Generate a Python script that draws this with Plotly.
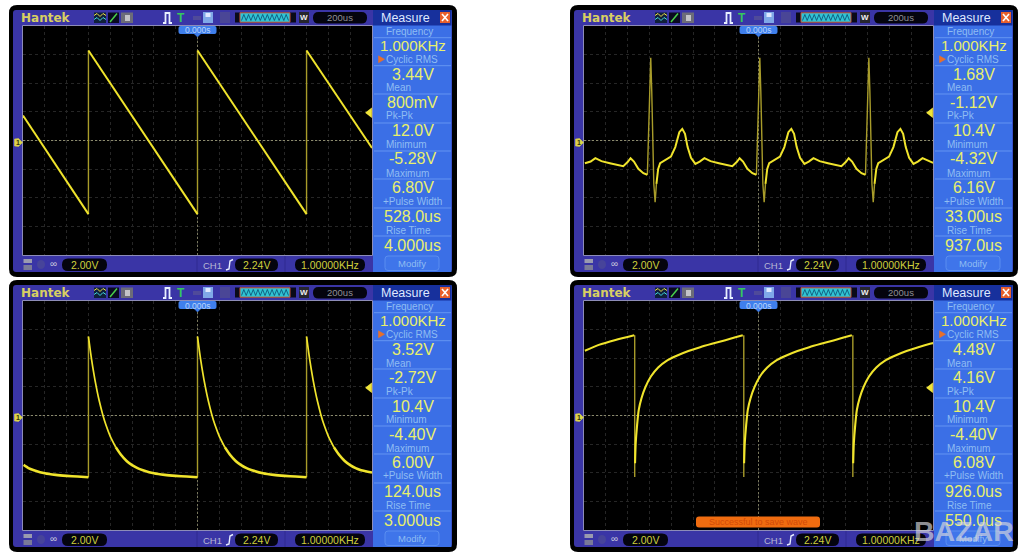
import plotly.graph_objects as go

W, H = 1024, 558

# ---------- waveform data: time in us, level in volts ----------
saw_t = [-1600, -1000, None, -1000, 0, None, 0, 1000, None, 1000, 1600]
saw_v = [1.85, -5.45, None, 6.67, -5.45, None, 6.67, -5.45, None, 6.67, -0.55]
saw_edge_t = [-1000, -1000, None, 0, 0, None, 1000, 1000]
saw_edge_v = [-5.45, 6.67, None, -5.45, 6.67, None, -5.45, 6.67]

ecg_t = [-1592, -1539, -1496, -1440, -1363, -1286, -1240, -1200, -1173, -1142, -1102, -1056, -1019, None,
         -936, -920, -902, -856, -803, -763, -726, -699, -674, -650, -619, -579, -539, -496, -440, -363,
         -286, -240, -200, -173, -142, -102, -56, -19, None,
         64, 80, 98, 144, 197, 237, 274, 301, 326, 350, 381, 421, 461, 504, 560, 637, 714, 760, 800, 827,
         858, 898, 944, 981, None,
         1064, 1080, 1098, 1144, 1197, 1237, 1274, 1301, 1326, 1350, 1381, 1421, 1461, 1504, 1601]
ecg_v = [-1.68, -1.56, -1.31, -1.53, -1.68, -1.85, -1.90, -1.60, -1.31, -1.56, -2.10, -2.42, -2.54, None,
         -3.21, -2.10, -1.68, -1.48, -1.19, -0.49, 0.62, 0.86, 0.49, -0.49, -1.28, -1.73, -1.56, -1.31, -1.53, -1.68,
         -1.85, -1.90, -1.60, -1.31, -1.56, -2.10, -2.42, -2.54, None,
         -3.21, -2.10, -1.68, -1.48, -1.19, -0.49, 0.62, 0.86, 0.49, -0.49, -1.28, -1.73, -1.56, -1.31, -1.53, -1.68,
         -1.85, -1.90, -1.60, -1.31, -1.56, -2.10, -2.42, -2.54, None,
         -3.21, -2.10, -1.68, -1.48, -1.19, -0.49, 0.62, 0.86, 0.49, -0.49, -1.28, -1.73, -1.56, -1.31, -1.65]
ecg_spike_t = [-1019, -1006, -997, -988, -979, -970, -960, -948, -936, None,
               -19, -6, 3, 12, 21, 30, 40, 52, 64, None,
               981, 994, 1003, 1012, 1021, 1030, 1040, 1052, 1064]
ecg_spike_v = [-2.54, 1.73, 3.95, 6.12, 3.70, 0.0, -3.21, -4.57, -3.21, None,
               -2.54, 1.73, 3.95, 6.12, 3.70, 0.0, -3.21, -4.57, -3.21, None,
               -2.54, 1.73, 3.95, 6.12, 3.70, 0.0, -3.21, -4.57, -3.21]

dec_t = [-1000, -980, -960, -940, -920, -900, -870, -840, -800, -750, None,
         0, 20, 40, 60, 80, 100, 130, 160, 200, 250, None,
         1000, 1020, 1040, 1060, 1080, 1100, 1130, 1160, 1200, 1250]
dec_v = [5.85, 4.64, 3.57, 2.62, 1.79, 1.05, 0.10, -0.69, -1.54, -2.34, None,
         5.85, 4.64, 3.57, 2.62, 1.79, 1.05, 0.10, -0.69, -1.54, -2.34, None,
         5.85, 4.64, 3.57, 2.62, 1.79, 1.05, 0.10, -0.69, -1.54, -2.34]
dec_tail_t = [-1595, -1550, -1500, -1400, -1300, -1200, -1100, -1000, None,
              -750, -700, -650, -600, -550, -500, -400, -300, -200, -100, 0, None,
              250, 300, 350, 400, 450, 500, 600, 700, 800, 900, 1000, None,
              1250, 1300, 1350, 1400, 1450, 1500, 1600]
dec_tail_v = [-3.66, -3.90, -4.05, -4.28, -4.40, -4.47, -4.52, -4.57, None,
              -2.34, -2.93, -3.37, -3.68, -3.90, -4.05, -4.28, -4.40, -4.47, -4.52, -4.57, None,
              -2.34, -2.93, -3.37, -3.68, -3.90, -4.05, -4.28, -4.40, -4.47, -4.52, -4.57, None,
              -2.34, -2.93, -3.37, -3.68, -3.90, -4.05, -4.22]
dec_edge_t = [-1000, -1000, None, 0, 0, None, 1000, 1000]
dec_edge_v = [-4.57, 5.85, None, -4.57, 5.85, None, -4.57, 5.85]

rec_t = [-1592, -1464, -1311, -1139, None,
         -1132, -1126, -1113, -1098, -1073, -1037, -987, -920, -843, -750, -643, -535, -427, -304, -212, -144, None,
         -132, -126, -113, -98, -73, -37, 13, 80, 157, 250, 357, 465, 573, 696, 788, 856, None,
         868, 874, 887, 902, 927, 963, 1013, 1080, 1157, 1250, 1357, 1465, 1573, 1601]
rec_v = [4.79, 5.23, 5.60, 5.95, None,
         -3.53, -2.05, -0.69, 0.42, 1.28, 2.10, 2.89, 3.56, 4.05, 4.42, 4.77, 5.06, 5.31, 5.58, 5.80, 5.95, None,
         -3.53, -2.05, -0.69, 0.42, 1.28, 2.10, 2.89, 3.56, 4.05, 4.42, 4.77, 5.06, 5.31, 5.58, 5.80, 5.95, None,
         -3.53, -2.05, -0.69, 0.42, 1.28, 2.10, 2.89, 3.56, 4.05, 4.42, 4.77, 5.06, 5.31, 5.36]
rec_edge_t = [-1135, -1135, None, -135, -135, None, 865, 865]
rec_edge_v = [5.95, -4.55, None, 5.95, -4.55, None, 5.95, -4.55]

trigger_level = 2.05
x_range = [-1600, 1600]
y_range = [-8.48, 8.48]

# ---------- scope read-outs ----------
measure_labels = ["Frequency", "Cyclic RMS", "Mean", "Pk-Pk", "Minimum", "Maximum", "+Pulse Width", "Rise Time"]
saw_readout = ["1.000KHz", "3.44V", "800mV", "12.0V", "-5.28V", "6.80V", "528.0us", "4.000us"]
ecg_readout = ["1.000KHz", "1.68V", "-1.12V", "10.4V", "-4.32V", "6.16V", "33.00us", "937.0us"]
dec_readout = ["1.000KHz", "3.52V", "-2.72V", "10.4V", "-4.40V", "6.00V", "124.0us", "3.000us"]
rec_readout = ["1.000KHz", "4.48V", "4.16V", "10.4V", "-4.40V", "6.08V", "926.0us", "550.0us"]

brand = "Hantek"
menu_title = "Measure"
timebase = "200us"
trigger_pos = "0.000s"
volts_div = "2.00V"
channel = "CH1"
trigger_readout = "2.24V"
freq_readout = "1.00000KHz"
modify = "Modify"
toast = "Successful to save wave"
watermark = "BAZAR"

FONT = "Liberation Sans"
YEL = "#f0e42c"
DIM = "#a89c2a"
VAL = "#e9f06c"
LAB = "#8fbdf2"
BODY = "#3a35a6"
BLUE = "#3b6fe6"
NAVY = "#17309c"


def X(p):
    return p / W


def Y(p):
    return 1 - p / H


shapes, notes = [], []


def rrect(x0, y0, x1, y1, r, fill, line=None, lw=1, layer="below"):
    a, b, c, d = X(x0), Y(y0), X(x1), Y(y1)
    rx, ry = r / W, r / H
    path = (f"M {a+rx},{b} L {c-rx},{b} Q {c},{b} {c},{b-ry} L {c},{d+ry} Q {c},{d} {c-rx},{d} "
            f"L {a+rx},{d} Q {a},{d} {a},{d+ry} L {a},{b-ry} Q {a},{b} {a+rx},{b} Z")
    shapes.append(dict(type="path", xref="paper", yref="paper", path=path, fillcolor=fill,
                       line=dict(color=line or fill, width=lw if line else 0), layer=layer))


def rect(x0, y0, x1, y1, fill, line=None, lw=1, layer="below"):
    shapes.append(dict(type="rect", xref="paper", yref="paper", x0=X(x0), x1=X(x1), y0=Y(y0), y1=Y(y1),
                       fillcolor=fill, line=dict(color=line or fill, width=lw if line else 0), layer=layer))


def poly(pts, color, lw=1, fill=None, layer="below"):
    path = "M " + " L ".join(f"{X(a)},{Y(b)}" for a, b in pts)
    if fill:
        path += " Z"
    shapes.append(dict(type="path", xref="paper", yref="paper", path=path,
                       fillcolor=fill or "rgba(0,0,0,0)", line=dict(color=color, width=lw), layer=layer))


def text(x, y, s, size, color, anchor="center", bold=False, family=FONT):
    notes.append(dict(xref="paper", yref="paper", x=X(x), y=Y(y), text=f"<b>{s}</b>" if bold else s,
                      showarrow=False, xanchor=anchor, yanchor="middle",
                      font=dict(size=size, color=color, family=family), borderpad=0, borderwidth=0))


def frame(ox, oy, readout):
    rrect(9 + ox, 5 + oy, 457 + ox, 277 + oy, 8, "#000000")
    rrect(13 + ox, 10 + oy, 452 + ox, 272 + oy, 3, BODY)
    rect(22.5 + ox, 25.5 + oy, 372.5 + ox, 255.5 + oy, "#000000", "#8d8cb8", 1)
    rect(373 + ox, 10 + oy, 451.5 + ox, 272 + oy, BLUE)
    rect(373 + ox, 10 + oy, 451.5 + ox, 25.5 + oy, NAVY)
    rect(440 + ox, 12 + oy, 450 + ox, 23 + oy, "#e8602c")
    poly([(442 + ox, 14 + oy), (448 + ox, 21 + oy)], "#ffffff", 1.6)
    poly([(448 + ox, 14 + oy), (442 + ox, 21 + oy)], "#ffffff", 1.6)
    text(405 + ox, 17.7 + oy, menu_title, 12.5, "#dfe8ff")
    for yy in (37.7, 65.7, 94, 123, 151, 179, 208, 236):
        poly([(374 + ox, yy + oy), (451 + ox, yy + oy)], "#6f9ff5", 0.8)

    # header glyphs
    text(46 + ox, 17.7 + oy, brand, 12, "#d8cf62", bold=True, family="DejaVu Sans")
    rect(94 + ox, 12.5 + oy, 106 + ox, 23 + oy, "#10203a")
    poly([(94 + ox, 15.5 + oy), (97 + ox, 13.5 + oy), (100 + ox, 16.5 + oy), (103 + ox, 13.5 + oy), (106 + ox, 15.5 + oy)], "#efe04a", 1)
    poly([(94 + ox, 19.5 + oy), (97 + ox, 17.5 + oy), (100 + ox, 20.5 + oy), (103 + ox, 17.5 + oy), (106 + ox, 19.5 + oy)], "#3fd6e0", 1)
    rect(108 + ox, 12.5 + oy, 119 + ox, 23 + oy, "#0a0a20")
    poly([(110 + ox, 22 + oy), (117 + ox, 13.5 + oy)], "#49d04a", 1.5)
    rect(121 + ox, 12.5 + oy, 133 + ox, 23 + oy, "#6c6c78")
    rect(125 + ox, 15 + oy, 130 + ox, 21 + oy, "#c4c4c8")
    poly([(163 + ox, 23 + oy), (165.5 + ox, 23 + oy), (165.5 + ox, 13 + oy), (169.5 + ox, 13 + oy), (169.5 + ox, 23 + oy), (172 + ox, 23 + oy)], "#e8f0ff", 1.8)
    text(180.5 + ox, 17.7 + oy, "T", 12, "#35c85c", bold=True)
    rect(193 + ox, 16 + oy, 201 + ox, 20 + oy, "#4f4a9a")
    rect(203 + ox, 12 + oy, 213 + ox, 23 + oy, "#7fa8e8")
    rect(205.5 + ox, 13 + oy, 210.5 + ox, 17 + oy, "#dfe8ff")
    rect(220 + ox, 12 + oy, 230 + ox, 23 + oy, "#4a4696")
    rect(235 + ox, 12.5 + oy, 296 + ox, 22.5 + oy, "#0a0a18")
    rect(240 + ox, 12.8 + oy, 290 + ox, 22.2 + oy, "#2fc4d4", "#c85038", 1)
    zig = []
    for i in range(21):
        zig.append((241.5 + ox + i * 2.35, (14.5 if i % 2 else 20.5) + oy))
    poly(zig, "#0e4a70", 0.8)
    rect(299 + ox, 12 + oy, 309 + ox, 23 + oy, "#26262e")
    text(304 + ox, 17.7 + oy, "W", 8, "#f0f0f0", bold=True)
    rrect(313 + ox, 12 + oy, 367 + ox, 23.5 + oy, 5.5, "#04040e")
    text(340 + ox, 17.8 + oy, timebase, 9.5, "#8f8f94")

    # measure column
    value_y = [45.7, 74, 102.7, 131, 159, 187.7, 216.7, 245]
    label_y = [31, 59.3, 88, 116, 144.7, 173, 201, 230]
    for lab, ly in zip(measure_labels, label_y):
        lx = 383 if lab.startswith("+") else 386
        text(lx + ox, ly + oy, lab, 10, LAB, anchor="left")
    for i, (val, vy) in enumerate(zip(readout, value_y)):
        text(412.5 + ox, vy + oy, val, 15 if i == 0 else 16, VAL)
    poly([(378.5 + ox, 55.8 + oy), (384.5 + ox, 59.3 + oy), (378.5 + ox, 62.8 + oy)], "#e8702a", 0.5, fill="#e8702a")
    rrect(385 + ox, 256 + oy, 439 + ox, 270.5 + oy, 3, "#3f75ea", "#5a8ef0", 1)
    text(412 + ox, 263 + oy, modify, 9.5, LAB)

    # footer
    rect(23.5 + ox, 259 + oy, 32 + ox, 263 + oy, "#9a9ab0")
    rect(23.5 + ox, 265 + oy, 32 + ox, 270 + oy, "#7a7a98")
    shapes.append(dict(type="circle", xref="paper", yref="paper", x0=X(37 + ox), x1=X(45 + ox),
                       y0=Y(269 + oy), y1=Y(260 + oy), fillcolor="#47449a", line=dict(width=0), layer="below"))
    text(53.5 + ox, 263.5 + oy, "∞", 10, "#c4c4da")
    rrect(62 + ox, 258.5 + oy, 107 + ox, 271 + oy, 6, "#04040e")
    text(84.5 + ox, 265 + oy, volts_div, 10.5, "#cfd03c")
    poly([(197 + ox, 256 + oy), (197 + ox, 272 + oy)], "#2f2b90", 1)
    text(212 + ox, 265 + oy, channel, 9.5, "#b8b8d4")
    poly([(226 + ox, 270 + oy), (229 + ox, 269 + oy), (230 + ox, 261 + oy), (233 + ox, 259.5 + oy)], "#e6ecff", 1.4)
    rrect(235 + ox, 258.5 + oy, 278 + ox, 271 + oy, 6, "#04040e")
    text(256.5 + ox, 265 + oy, trigger_readout, 10.5, "#cfd03c")
    poly([(285 + ox, 256 + oy), (285 + ox, 272 + oy)], "#2f2b90", 1)
    rrect(295 + ox, 258.5 + oy, 365 + ox, 271 + oy, 6, "#04040e")
    text(330 + ox, 265 + oy, freq_readout, 10.5, "#cfd03c")

    # trigger position tab
    rrect(178.5 + ox, 26 + oy, 216.5 + ox, 34 + oy, 2, "#3f7fec", layer="above")
    poly([(194.5 + ox, 34 + oy), (200.5 + ox, 34 + oy), (197.5 + ox, 37 + oy)], "#3f7fec", 0.5, fill="#3f7fec", layer="above")
    text(197.5 + ox, 30.5 + oy, trigger_pos, 8.5, "#b9d4fa")

    # channel ground flag
    poly([(14.5 + ox, 139 + oy), (18.5 + ox, 138.5 + oy), (22.5 + ox, 142.5 + oy), (18.5 + ox, 146.5 + oy), (14.5 + ox, 146 + oy)],
         "#dcd54a", 0.5, fill="#dcd54a", layer="above")
    text(17.5 + ox, 142.7 + oy, "1", 7, "#33330a", bold=True)


panels = [
    dict(ox=0, oy=0, read=saw_readout, line=(saw_t, saw_v), extra=None, edge=(saw_edge_t, saw_edge_v), lw=2.0, shape="linear", name="Sawtooth"),
    dict(ox=561, oy=0, read=ecg_readout, line=(ecg_t, ecg_v), extra=None, edge=(ecg_spike_t, ecg_spike_v), lw=2.0, shape="linear", name="Cardiac"),
    dict(ox=0, oy=275, read=dec_readout, line=(dec_t, dec_v), extra=(dec_tail_t, dec_tail_v), edge=(dec_edge_t, dec_edge_v), lw=1.7, shape="spline", name="Exponential decay"),
    dict(ox=561, oy=275, read=rec_readout, line=(rec_t, rec_v), extra=None, edge=(rec_edge_t, rec_edge_v), lw=2.1, shape="spline", name="Exponential rise"),
]

fig = go.Figure()
layout_axes = {}
for n, p in enumerate(panels, start=1):
    ox, oy = p["ox"], p["oy"]
    frame(ox, oy, p["read"])
    xa, ya = ("x", "y") if n == 1 else (f"x{n}", f"y{n}")
    xkey, ykey = ("xaxis", "yaxis") if n == 1 else (f"xaxis{n}", f"yaxis{n}")
    layout_axes[xkey] = dict(domain=[X(23 + ox), X(372 + ox)], range=x_range, anchor=ya, dtick=200, tick0=0,
                             showgrid=True, gridcolor="#262626", griddash="dot", gridwidth=1, zeroline=False,
                             showticklabels=False, ticks="", showline=False, fixedrange=True)
    layout_axes[ykey] = dict(domain=[Y(255 + oy), Y(26 + oy)], range=y_range, anchor=xa, dtick=2.12, tick0=0,
                             showgrid=True, gridcolor="#262626", griddash="dot", gridwidth=1, zeroline=False,
                             showticklabels=False, ticks="", showline=False, fixedrange=True)
    fig.add_trace(go.Scatter(x=x_range, y=[0, 0], xaxis=xa, yaxis=ya, mode="lines", showlegend=False,
                             line=dict(color="#8b8a6c", width=1, dash="2px,2px"), hoverinfo="skip"))
    fig.add_trace(go.Scatter(x=[0, 0], y=y_range, xaxis=xa, yaxis=ya, mode="lines", showlegend=False,
                             line=dict(color="#77765c", width=1, dash="2px,2px"), hoverinfo="skip"))
    fig.add_trace(go.Scatter(x=p["edge"][0], y=p["edge"][1], xaxis=xa, yaxis=ya, mode="lines", showlegend=False,
                             connectgaps=False, line=dict(color=DIM, width=1.4), hoverinfo="skip"))
    fig.add_trace(go.Scatter(x=p["line"][0], y=p["line"][1], xaxis=xa, yaxis=ya, mode="lines", name=p["name"],
                             showlegend=False, connectgaps=False,
                             line=dict(color=YEL, width=p["lw"], shape=p["shape"], smoothing=0.6), hoverinfo="skip"))
    if p["extra"]:
        fig.add_trace(go.Scatter(x=p["extra"][0], y=p["extra"][1], xaxis=xa, yaxis=ya, mode="lines", showlegend=False,
                                 connectgaps=False, line=dict(color=YEL, width=2.6, shape="spline", smoothing=0.6),
                                 hoverinfo="skip"))
    fig.add_trace(go.Scatter(x=[1578], y=[trigger_level], xaxis=xa, yaxis=ya, mode="markers", showlegend=False,
                             marker=dict(symbol="triangle-left", size=9, color="#efe43a"), hoverinfo="skip",
                             cliponaxis=False))

# save message and watermark on the last panel
ox, oy = 561, 275
rrect(135 + ox, 241.5 + oy, 259 + ox, 252.5 + oy, 3, "#f06c10", layer="above")
text(197 + ox, 247 + oy, toast, 9, "#d24a08")
text(963.5, 531, watermark, 28.5, "rgba(215,215,222,0.68)", bold=True)

fig.update_layout(width=W, height=H, margin=dict(l=0, r=0, t=0, b=0), paper_bgcolor="#ffffff",
                  plot_bgcolor="rgba(0,0,0,0)", showlegend=False, hovermode=False,
                  shapes=shapes, annotations=notes, font=dict(family=FONT), **layout_axes)

fig.write_html("out.html", config=dict(displayModeBar=False, staticPlot=True),
               post_script="document.body.style.margin='0';document.documentElement.style.overflow='hidden';")
